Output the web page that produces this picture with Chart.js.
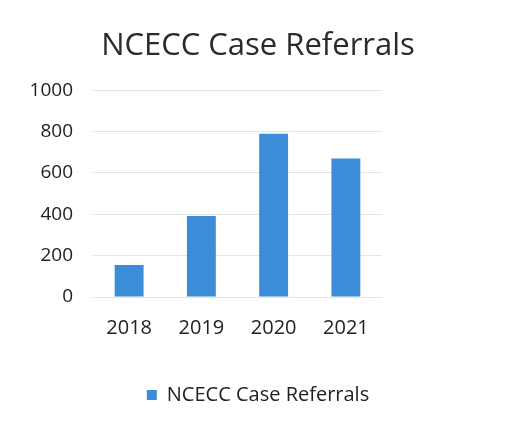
<!DOCTYPE html>
<html>
<head>
<meta charset="utf-8">
<script src="https://cdn.jsdelivr.net/npm/chart.js@4"></script>
<style>
  html, body { margin: 0; padding: 0; background: #fff; }
  #wrap { width: 516px; height: 427px; }
</style>
</head>
<body>
<div id="wrap"><canvas id="chart" width="516" height="427"></canvas></div>
<script>
// chart data
const years = ["2018", "2019", "2020", "2021"];
const referrals = [155, 392, 790, 670];
const yTicks = [0, 200, 400, 600, 800, 1000];
const seriesName = "NCECC Case Referrals";

const ctx = document.getElementById("chart").getContext("2d");
new Chart(ctx, {
    type: "bar",
    data: {
        labels: years,
        datasets: [{
            label: seriesName,
            data: referrals,
            backgroundColor: "#3a8dd6",
            borderWidth: 0,
            barPercentage: 0.4,
            categoryPercentage: 1
        }]
    },
    options: {
        responsive: false,
        animation: false,
        layout: { padding: { left: 0, right: 0, top: 28, bottom: 12 } },
        plugins: {
            title: {
                display: true,
                text: seriesName,
                color: "#2b2b2b",
                font: { family: "Open Sans", size: 31, weight: "normal" },
                padding: { top: 0, bottom: 25 }
            },
            legend: {
                position: "bottom",
                labels: {
                    boxWidth: 10,
                    boxHeight: 10,
                    color: "#222",
                    font: { family: "Open Sans", size: 20 },
                    padding: 20
                }
            },
            tooltip: { enabled: false }
        },
        scales: {
            x: {
                afterFit: axis => { axis.height = 68; },
                grid: { display: false },
                border: { display: false },
                ticks: { color: "#222", font: { family: "Open Sans", size: 20 }, padding: 11 }
            },
            y: {
                min: 0,
                max: 1000,
                afterBuildTicks: axis => { axis.ticks = yTicks.map(v => ({ value: v })); },
                afterFit: axis => { axis.width = 93; },
                grid: { color: "#e4e4e4", drawTicks: false },
                border: { display: false },
                ticks: {
                    color: "#222",
                    font: { family: "Open Sans", size: 19 },
                    padding: 20,
                    callback: v => String(v)
                }
            },
            // empty right axis keeps the blank space to the right of the plot
            yRight: {
                position: "right",
                display: true,
                afterFit: axis => { axis.width = 134; },
                grid: { display: false },
                border: { display: false },
                ticks: { display: false }
            }
        }
    }
});
</script>
</body>
</html>
